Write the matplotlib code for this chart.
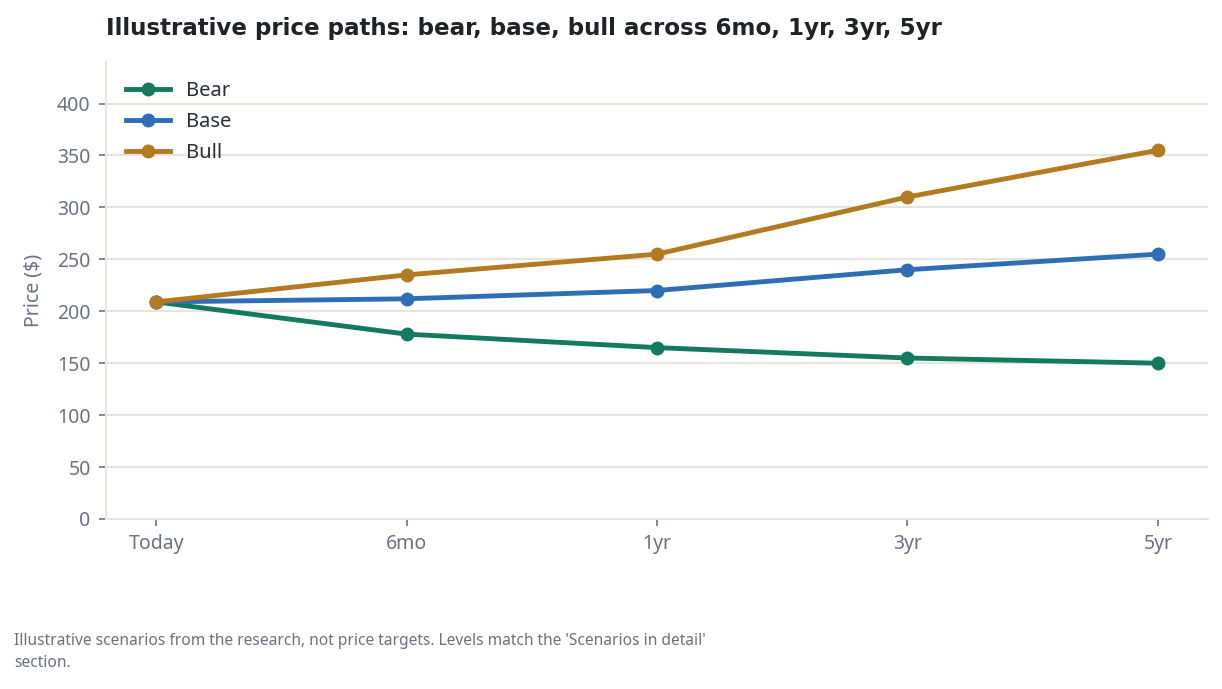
import matplotlib
matplotlib.use("Agg")
import matplotlib.pyplot as plt

horizons = ["Today", "6mo", "1yr", "3yr", "5yr"]
bear = [209, 178, 165, 155, 150]
base = [209, 212, 220, 240, 255]
bull = [209, 235, 255, 310, 355]

colors = {"Bear": "#137a5f", "Base": "#2f6eb5", "Bull": "#b37a21"}
grid_col = "#e8e4de"
tick_col = "#6b7280"

plt.rcParams['font.family'] = ['Noto Sans', 'DejaVu Sans']

fig = plt.figure(figsize=(12.22, 6.89), dpi=100)
ax = fig.add_axes([106 / 1222, 1 - 519 / 689, (1208 - 106) / 1222, (519 - 62) / 689])

x = list(range(len(horizons)))
for name, vals in [("Bear", bear), ("Base", base), ("Bull", bull)]:
    ax.plot(x, vals, color=colors[name], lw=3.5, marker="o", ms=9, label=name, zorder=3)

ax.set_xlim(-0.2, 4.2)
ax.set_ylim(0, 440)
ax.set_yticks(range(0, 401, 50))
ax.set_xticks(x)
ax.set_xticklabels(horizons)
ax.grid(axis="y", color=grid_col, lw=1.5)
ax.set_axisbelow(True)
for s in ["top", "right"]:
    ax.spines[s].set_visible(False)
for s in ["left", "bottom"]:
    ax.spines[s].set_color(grid_col)
    ax.spines[s].set_linewidth(1.5)
ax.tick_params(colors=tick_col, labelsize=14, length=5, width=1.2, pad=6)
ax.set_ylabel("Price ($)", color=tick_col, fontsize=14, labelpad=10)

leg = ax.legend(loc="upper left", frameon=False, fontsize=14.5, handlelength=2.2,
                borderaxespad=0.3, labelspacing=0.55, bbox_to_anchor=(0.005, 0.99))
for t in leg.get_texts():
    t.set_color("#2a2e35")

fig.text(106 / 1222, 1 - 28 / 689, "Illustrative price paths: bear, base, bull across 6mo, 1yr, 3yr, 5yr",
         fontsize=16.6, fontweight="bold", family=["DejaVu Sans"], color="#1f2328", va="center")
fig.text(14 / 1222, 1 - 652 / 689,
         "Illustrative scenarios from the research, not price targets. Levels match the 'Scenarios in detail'\nsection.",
         fontsize=11.2, color="#6b7280", va="center", linespacing=1.45)

fig.savefig("out.png", dpi=100)
